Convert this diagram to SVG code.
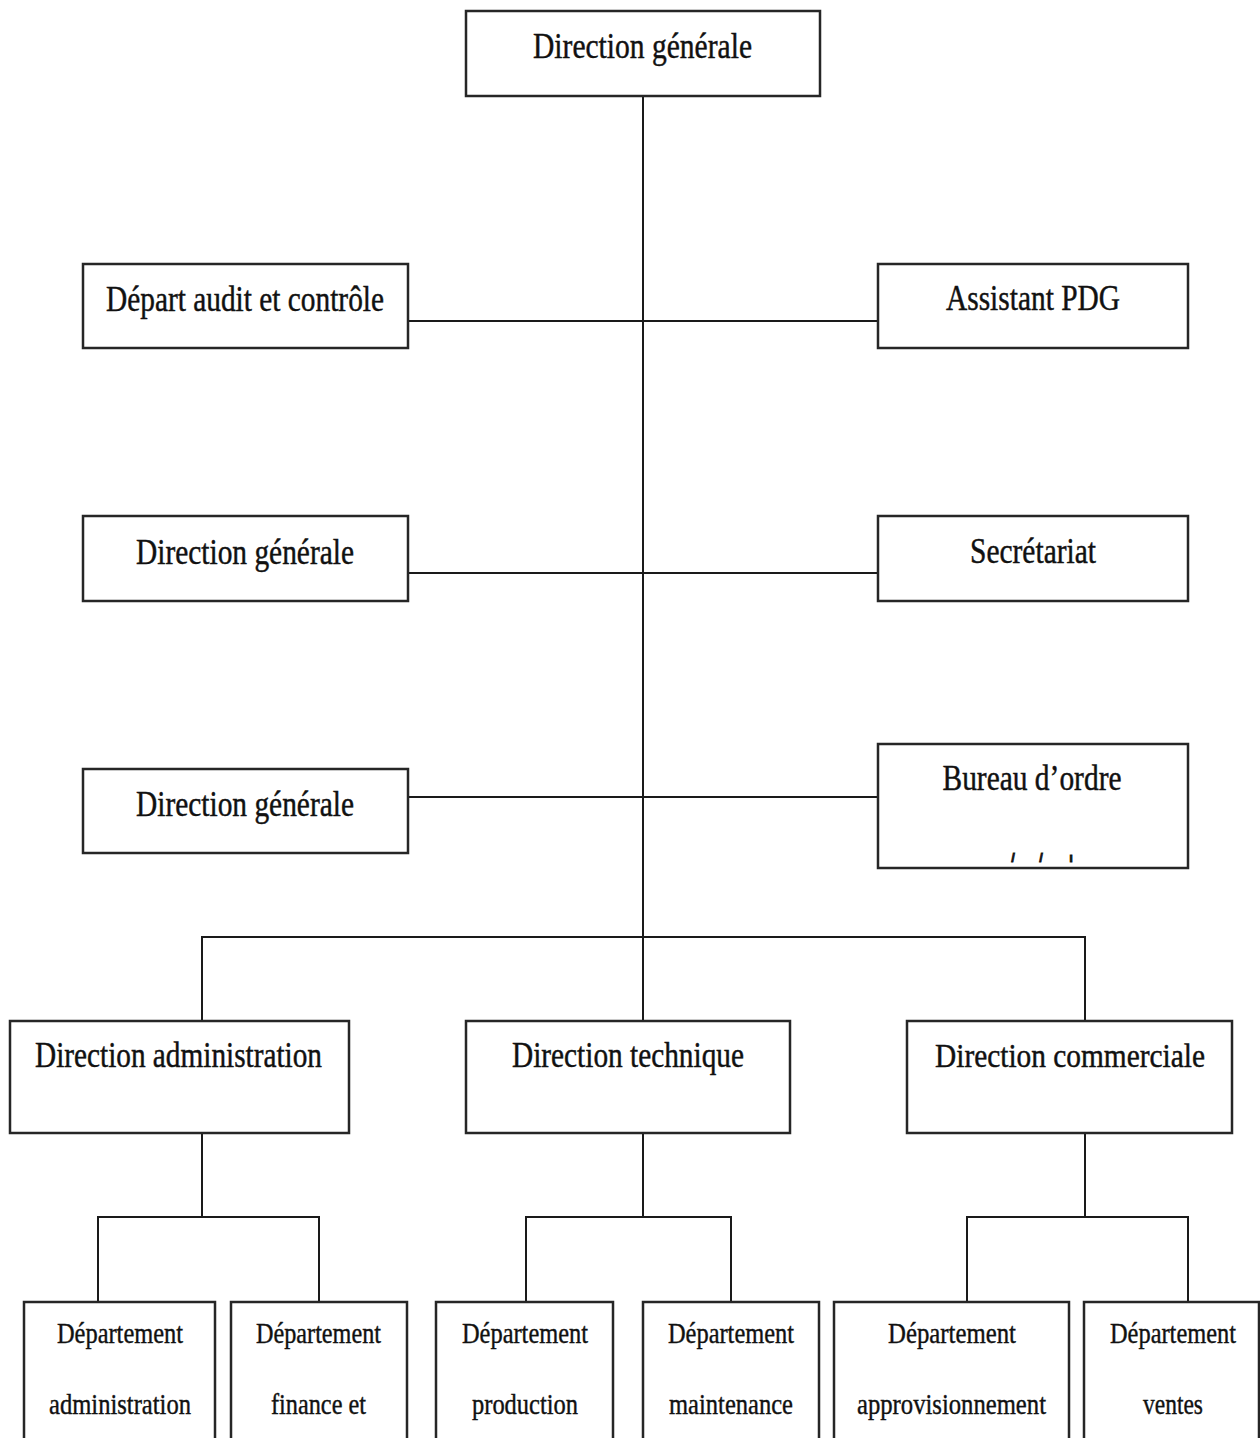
<svg xmlns="http://www.w3.org/2000/svg" width="1260" height="1438" viewBox="0 0 1260 1438">
  <style>
    .box { fill: #ffffff; stroke: #262626; stroke-width: 2.5; }
    .link { fill: none; stroke: #1a1a1a; stroke-width: 2; }
    .t { font-family: "Liberation Serif", "Times New Roman", serif; font-size: 36px; fill: #111111; stroke: #111111; stroke-width: 0.45; text-anchor: middle; }
    .s { font-family: "Liberation Serif", "Times New Roman", serif; font-size: 29px; fill: #111111; stroke: #111111; stroke-width: 0.4; text-anchor: middle; }
    .mark { font-family: "Liberation Sans", Arial, sans-serif; font-size: 13px; font-weight: bold; fill: #111111; stroke: #111111; stroke-width: 0.8; text-anchor: middle; }
  </style>
  <rect width="1260" height="1438" fill="#ffffff"/>

  <!-- connectors -->
  <g id="connectors">
    <path class="link" d="M643 96 V937"/>
    <path class="link" d="M408 321 H878"/>
    <path class="link" d="M408 573 H878"/>
    <path class="link" d="M408 797 H878"/>
    <path class="link" d="M202 1021 V937 H1085 V1021"/>
    <path class="link" d="M643 937 V1021"/>
    <path class="link" d="M202 1133 V1217"/>
    <path class="link" d="M98 1302 V1217 H319 V1302"/>
    <path class="link" d="M643 1133 V1217"/>
    <path class="link" d="M526 1302 V1217 H731 V1302"/>
    <path class="link" d="M1085 1133 V1217"/>
    <path class="link" d="M967 1302 V1217 H1188 V1302"/>
  </g>

  <!-- top level -->
  <g id="direction-generale">
    <rect class="box" x="466" y="11" width="354" height="85"/>
    <text class="t" x="642.5" y="58" textLength="219" lengthAdjust="spacingAndGlyphs">Direction générale</text>
  </g>

  <!-- staff row 1 -->
  <g id="audit-controle">
    <rect class="box" x="83" y="264" width="325" height="84"/>
    <text class="t" x="245" y="311" textLength="278" lengthAdjust="spacingAndGlyphs">Départ audit et contrôle</text>
  </g>
  <g id="assistant-pdg">
    <rect class="box" x="878" y="264" width="310" height="84"/>
    <text class="t" x="1033" y="310" textLength="174" lengthAdjust="spacingAndGlyphs">Assistant PDG</text>
  </g>

  <!-- staff row 2 -->
  <g id="direction-generale-2">
    <rect class="box" x="83" y="516" width="325" height="85"/>
    <text class="t" x="245" y="564" textLength="218" lengthAdjust="spacingAndGlyphs">Direction générale</text>
  </g>
  <g id="secretariat">
    <rect class="box" x="878" y="516" width="310" height="85"/>
    <text class="t" x="1033" y="563" textLength="126" lengthAdjust="spacingAndGlyphs">Secrétariat</text>
  </g>

  <!-- staff row 3 -->
  <g id="direction-generale-3">
    <rect class="box" x="83" y="769" width="325" height="84"/>
    <text class="t" x="245" y="816" textLength="218" lengthAdjust="spacingAndGlyphs">Direction générale</text>
  </g>
  <g id="bureau-ordre">
    <rect class="box" x="878" y="744" width="310" height="124"/>
    <text class="t" x="1032" y="790" textLength="179" lengthAdjust="spacingAndGlyphs">Bureau d’ordre</text>
    <text class="mark" x="1013" y="862">/</text>
    <text class="mark" x="1041" y="862">/</text>
    <text class="mark" x="1071" y="862">ı</text>
  </g>

  <!-- directions -->
  <g id="direction-administration">
    <rect class="box" x="10" y="1021" width="339" height="112"/>
    <text class="t" x="178.5" y="1067" textLength="287" lengthAdjust="spacingAndGlyphs">Direction administration</text>
  </g>
  <g id="direction-technique">
    <rect class="box" x="466" y="1021" width="324" height="112"/>
    <text class="t" x="628" y="1067" textLength="232" lengthAdjust="spacingAndGlyphs">Direction technique</text>
  </g>
  <g id="direction-commerciale">
    <rect class="box" x="907" y="1021" width="325" height="112"/>
    <text class="t" x="1070" y="1067" style="font-size:34px" textLength="270" lengthAdjust="spacingAndGlyphs">Direction commerciale</text>
  </g>

  <!-- departments -->
  <g id="dep-administration">
    <rect class="box" x="24" y="1302" width="191" height="160"/>
    <text class="s" x="120" y="1343" textLength="126" lengthAdjust="spacingAndGlyphs">Département</text>
    <text class="s" x="120" y="1414" textLength="142" lengthAdjust="spacingAndGlyphs">administration</text>
  </g>
  <g id="dep-finance">
    <rect class="box" x="231" y="1302" width="176" height="160"/>
    <text class="s" x="318.5" y="1343" textLength="125" lengthAdjust="spacingAndGlyphs">Département</text>
    <text class="s" x="318.5" y="1414" textLength="95" lengthAdjust="spacingAndGlyphs">finance et</text>
  </g>
  <g id="dep-production">
    <rect class="box" x="436" y="1302" width="177" height="160"/>
    <text class="s" x="525" y="1343" textLength="126" lengthAdjust="spacingAndGlyphs">Département</text>
    <text class="s" x="525" y="1414" textLength="106" lengthAdjust="spacingAndGlyphs">production</text>
  </g>
  <g id="dep-maintenance">
    <rect class="box" x="643" y="1302" width="176" height="160"/>
    <text class="s" x="731" y="1343" textLength="126" lengthAdjust="spacingAndGlyphs">Département</text>
    <text class="s" x="731" y="1414" textLength="124" lengthAdjust="spacingAndGlyphs">maintenance</text>
  </g>
  <g id="dep-approvisionnement">
    <rect class="box" x="834" y="1302" width="235" height="160"/>
    <text class="s" x="952" y="1343" textLength="128" lengthAdjust="spacingAndGlyphs">Département</text>
    <text class="s" x="951.5" y="1414" textLength="189" lengthAdjust="spacingAndGlyphs">approvisionnement</text>
  </g>
  <g id="dep-ventes">
    <rect class="box" x="1084" y="1302" width="175" height="160"/>
    <text class="s" x="1173" y="1343" textLength="126" lengthAdjust="spacingAndGlyphs">Département</text>
    <text class="s" x="1173" y="1414" textLength="60" lengthAdjust="spacingAndGlyphs">ventes</text>
  </g>
</svg>
